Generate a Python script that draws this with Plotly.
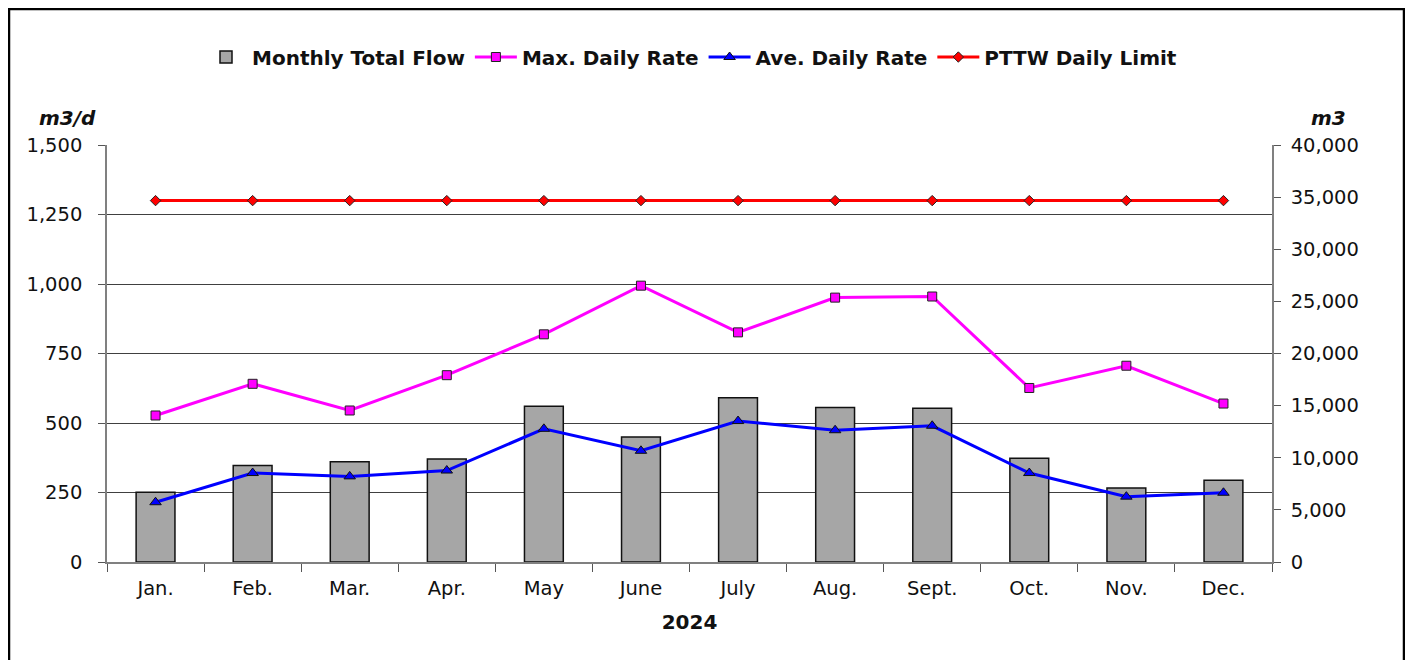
import plotly.graph_objects as go

months = ["Jan.", "Feb.", "Mar.", "Apr.", "May", "June", "July", "Aug.", "Sept.", "Oct.", "Nov.", "Dec."]
total_flow = [6700, 9260, 9620, 9870, 14940, 12000, 15760, 14830, 14740, 9960, 7090, 7830]
max_rate = [527, 641, 545, 672, 819, 994, 826, 951, 955, 626, 706, 570]
ave_rate = [215, 320, 308, 329, 479, 400, 507, 474, 490, 320, 235, 249]
pttw_limit = [1300] * 12

FONT = "DejaVu Sans, Liberation Sans, Arial, sans-serif"

W, H = 1405, 652
PL, PR, PT, PB = 99, 1264, 137, 554
PW, PH = PR - PL, PB - PT


def px(x):
    return (x - PL) / PW


def py(y):
    return (PB - y) / PH


fig = go.Figure()
fig.add_trace(go.Bar(
    x=months, y=total_flow, name="Monthly Total Flow", yaxis="y",
    width=0.4, marker=dict(color="#a6a6a6", line=dict(color="#111111", width=1.5)),
))
fig.add_trace(go.Scatter(
    x=months, y=max_rate, name="Max. Daily Rate", yaxis="y2", mode="lines+markers",
    line=dict(color="#ff00ff", width=3),
    marker=dict(symbol="square", size=9, color="#ff00ff", line=dict(color="#222222", width=1)),
))
fig.add_trace(go.Scatter(
    x=months, y=ave_rate, name="Ave. Daily Rate", yaxis="y2", mode="lines+markers",
    line=dict(color="#0000ff", width=3),
    marker=dict(symbol="triangle-up", size=10, color="#0000ff", line=dict(color="#111111", width=1)),
))
fig.add_trace(go.Scatter(
    x=months, y=pttw_limit, name="PTTW Daily Limit", yaxis="y2", mode="lines+markers",
    line=dict(color="#ff0000", width=3),
    marker=dict(symbol="diamond", size=8, color="#ff0000", line=dict(color="#222222", width=1)),
))

axis_font = dict(family=FONT, size=19.5, color="#111111")

fig.update_layout(
    width=W, height=H,
    margin=dict(l=PL, r=W - PR, t=PT, b=H - PB, autoexpand=False),
    paper_bgcolor="white", plot_bgcolor="white",
    font=dict(family=FONT, color="#111111"),
    showlegend=True,
    legend=dict(
        orientation="h", x=px(683), xanchor="center", y=py(49), yanchor="middle",
        font=dict(family=FONT, size=20, color="#111111", weight="bold"),
        traceorder="normal", itemwidth=42, bgcolor="rgba(0,0,0,0)",
    ),
    xaxis=dict(
        type="category", range=[-0.5, 11.5], tickfont=axis_font, showgrid=False,
        showline=True, linecolor="#808080", linewidth=1.5,
        ticks="outside", tickson="boundaries", ticklen=8, tickcolor="#555555",
        title=dict(text="<b>2024</b>", font=dict(family=FONT, size=20, color="#111111"), standoff=16),
        ticklabelstandoff=8,
    ),
    yaxis=dict(
        side="right", range=[0, 40000], dtick=5000, tickformat=",",
        tickfont=axis_font, showgrid=False, zeroline=False,
        showline=True, linecolor="#808080", linewidth=1.5,
        ticks="outside", ticklen=7, tickcolor="#555555", ticklabelstandoff=6,
    ),
    yaxis2=dict(
        side="left", overlaying="y", range=[0, 1500], dtick=250, tickformat=",",
        tickfont=axis_font, showgrid=True, gridcolor="#404040", gridwidth=1,
        zeroline=False, showline=True, linecolor="#808080", linewidth=1.5,
        ticks="outside", ticklen=7, tickcolor="#555555", ticklabelstandoff=12,
    ),
    annotations=[
        dict(text="<b><i>m3/d</i></b>", xref="paper", yref="paper",
             x=px(59), y=py(110), xanchor="center", yanchor="middle",
             showarrow=False, font=dict(family=FONT, size=20, color="#111111")),
        dict(text="<b><i>m3</i></b>", xref="paper", yref="paper",
             x=px(1320), y=py(110), xanchor="center", yanchor="middle",
             showarrow=False, font=dict(family=FONT, size=20, color="#111111")),
    ],
    shapes=[
        dict(type="rect", xref="paper", yref="paper",
             x0=px(1), x1=px(1396), y0=py(720), y1=py(1),
             line=dict(color="black", width=2.5), fillcolor="rgba(0,0,0,0)", layer="below"),
    ],
)

fig.write_html("out.html")
